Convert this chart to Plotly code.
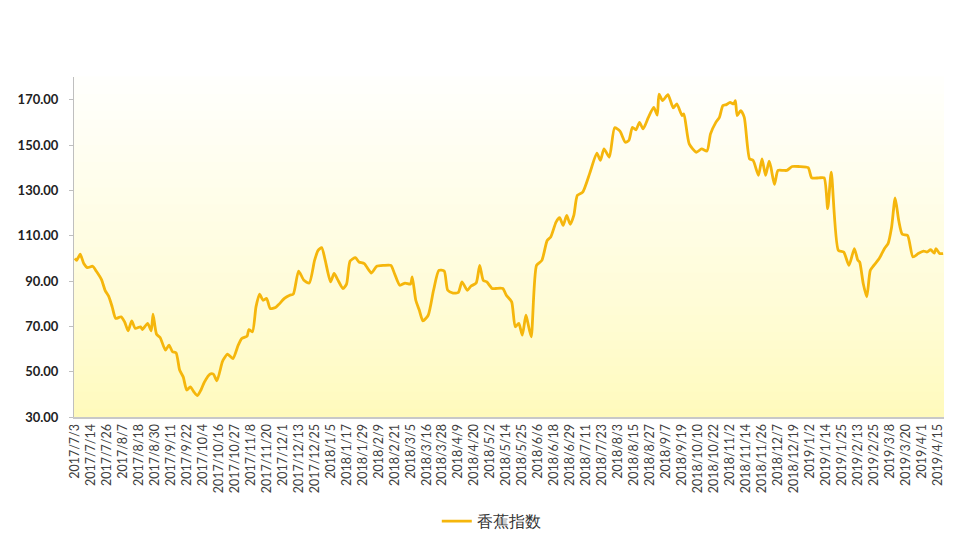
import plotly.graph_objects as go

# trading-day index (category position) and value
day_index = [0, 1, 3, 5, 7, 10, 12, 15, 17, 19, 21, 23, 26, 28, 30, 32, 34, 37, 38, 41,
             43, 44, 46, 48, 51, 53, 55, 57, 59, 61, 63, 65, 67, 69, 71, 73, 76, 78, 80, 83,
             84, 86, 89, 92, 94, 97, 98, 100, 102, 104, 106, 108, 110, 113, 115, 118, 121, 123, 126, 129,
             132, 135, 137, 139, 141, 144, 146, 148, 151, 153, 155, 158, 160, 163, 167, 170, 174, 178, 180, 183,
             186, 189, 190, 192, 194, 196, 199, 202, 205, 208, 210, 213, 216, 218, 221, 223, 226, 228, 230, 232,
             235, 237, 241, 243, 246, 248, 250, 252, 254, 255, 257, 260, 263, 266, 268, 271, 273, 275, 277, 279,
             281, 283, 286, 290, 294, 296, 298, 301, 304, 307, 310, 312, 314, 316, 318, 320, 323, 326, 328, 329,
             331, 334, 337, 339, 342, 343, 346, 350, 353, 356, 358, 361, 363, 365, 367, 369, 371, 372, 373, 375,
             377, 380, 382, 385, 387, 389, 391, 392, 394, 396, 399, 401, 404, 408, 413, 415, 419, 422, 424, 426,
             430, 433, 436, 439, 441, 442, 444, 446, 448, 450, 453, 456, 458, 460, 462, 464, 466, 469, 472, 475,
             478, 480, 482, 484, 485, 487, 489]
index_value = [100.0, 99.1, 101.8, 97.7, 95.9, 96.5, 94.4, 90.6, 85.9, 83.3, 78.6, 73.5, 74.2, 72.0, 68.0, 72.4, 69.1, 69.8, 68.6, 71.3,
               68.0, 75.4, 66.5, 65.1, 59.5, 61.7, 58.8, 58.3, 50.7, 47.7, 41.9, 43.3, 41.1, 39.4, 41.9, 45.5, 48.9, 48.9, 46.0, 54.3,
               55.8, 57.7, 55.8, 61.7, 64.6, 65.7, 68.6, 67.6, 78.6, 84.2, 81.5, 82.3, 77.9, 78.3, 79.8, 82.3, 83.7, 84.2, 94.4, 90.3,
               89.1, 99.1, 103.5, 104.7, 99.1, 89.6, 93.3, 90.6, 86.7, 88.6, 98.8, 100.3, 98.4, 97.7, 93.5, 96.5, 96.9, 96.9, 93.3, 88.1,
               89.1, 88.6, 91.8, 81.5, 77.1, 72.4, 74.9, 85.9, 94.7, 94.4, 85.9, 84.7, 85.0, 89.6, 85.9, 87.7, 89.1, 96.9, 90.3, 89.6,
               86.7, 86.7, 86.7, 83.7, 80.8, 69.8, 71.3, 66.1, 74.9, 72.0, 65.4, 96.9, 99.1, 107.9, 109.4, 116.0, 117.9, 114.5, 118.9, 115.0,
               118.9, 127.8, 129.2, 137.6, 146.4, 143.2, 148.3, 144.6, 157.6, 156.1, 151.2, 152.0, 157.8, 156.7, 160.0, 157.1, 162.2, 166.6, 163.2, 172.4,
               169.6, 172.2, 166.4, 168.1, 163.0, 163.7, 150.5, 146.8, 148.3, 147.3, 154.9, 160.0, 162.2, 167.4, 167.8, 168.8, 168.1, 169.6, 163.0, 165.2,
               162.2, 143.9, 143.2, 136.6, 143.9, 136.6, 142.9, 140.2, 132.6, 138.8, 138.8, 138.8, 140.5, 140.5, 140.0, 135.5, 135.5, 135.5, 121.9, 138.0,
               103.5, 102.8, 96.9, 104.3, 99.1, 98.4, 88.9, 83.0, 94.7, 96.9, 99.9, 104.3, 106.5, 113.8, 126.7, 116.7, 110.6, 110.1, 100.6, 102.1,
               103.2, 102.8, 103.8, 102.3, 104.3, 102.1, 102.1]

tick_labels = ["2017/7/3", "2017/7/14", "2017/7/26", "2017/8/7", "2017/8/18", "2017/8/30", "2017/9/11",
               "2017/9/22", "2017/10/4", "2017/10/16", "2017/10/27", "2017/11/8", "2017/11/20", "2017/12/1",
               "2017/12/13", "2017/12/25", "2018/1/5", "2018/1/17", "2018/1/29", "2018/2/9", "2018/2/21",
               "2018/3/5", "2018/3/16", "2018/3/28", "2018/4/9", "2018/4/20", "2018/5/2", "2018/5/14",
               "2018/5/25", "2018/6/6", "2018/6/18", "2018/6/29", "2018/7/11", "2018/7/23", "2018/8/3",
               "2018/8/15", "2018/8/27", "2018/9/7", "2018/9/19", "2018/10/10", "2018/10/22", "2018/11/2",
               "2018/11/14", "2018/11/26", "2018/12/7", "2018/12/19", "2019/1/2", "2019/1/14", "2019/1/25",
               "2019/2/13", "2019/2/25", "2019/3/8", "2019/3/20", "2019/4/1", "2019/4/15"]
tick_step = 9
tick_positions = [i * tick_step for i in range(len(tick_labels))]

y_ticks = [30, 50, 70, 90, 110, 130, 150, 170]
series_name = "香蕉指数"

fig = go.Figure()

# background vertical gradient (yellow bottom -> white top)
n_bands = 40
bottom = (255, 250, 188)
top = (255, 255, 252)
for b in range(n_bands):
    t = b / (n_bands - 1)
    tt = t ** 0.8
    col = tuple(int(round(bottom[k] + (top[k] - bottom[k]) * tt)) for k in range(3))
    fig.add_shape(type="rect", xref="x domain", yref="y domain",
                  x0=0, x1=1, y0=b / n_bands, y1=(b + 1) / n_bands + 0.002,
                  fillcolor="rgb(%d,%d,%d)" % col, line=dict(width=0), layer="below")

fig.add_trace(go.Scatter(
    x=day_index, y=index_value, mode="lines", name=series_name,
    line=dict(color="#F5B60C", width=2.8, shape="spline", smoothing=0.6),
    showlegend=True,
))

fig.update_layout(
    width=956, height=527,
    margin=dict(l=66, r=20, t=69, b=118, autoexpand=False),
    paper_bgcolor="white", plot_bgcolor="white",
    font=dict(family="Lato, 'Open Sans', sans-serif", color="#404040"),
    legend=dict(orientation="h", x=0.417, xanchor="left", xref="paper",
                y=0.026, yanchor="middle", yref="container",
                font=dict(size=16, color="#333333"), bgcolor="rgba(0,0,0,0)"),
    xaxis=dict(range=[-0.5, 489.5], tickmode="array", tickvals=tick_positions, ticktext=tick_labels,
               tickangle=-90, tickfont=dict(size=12.5, color="#404040"),
               showgrid=False, zeroline=False, showline=True, linecolor="#C8C8C8", linewidth=2,
               ticks="", ticklen=0, automargin=False),
    yaxis=dict(range=[30, 180], tickmode="array", tickvals=y_ticks, tickformat=".2f",
               tickfont=dict(size=13, color="#222222", family="Lato, sans-serif", weight="bold"),
               showgrid=False, zeroline=False, showline=True, linecolor="#BFBFBF", linewidth=1,
               ticks="outside", ticklen=4, tickcolor="#BFBFBF", ticklabelstandoff=8, automargin=False),
)

fig.write_html("out.html")
